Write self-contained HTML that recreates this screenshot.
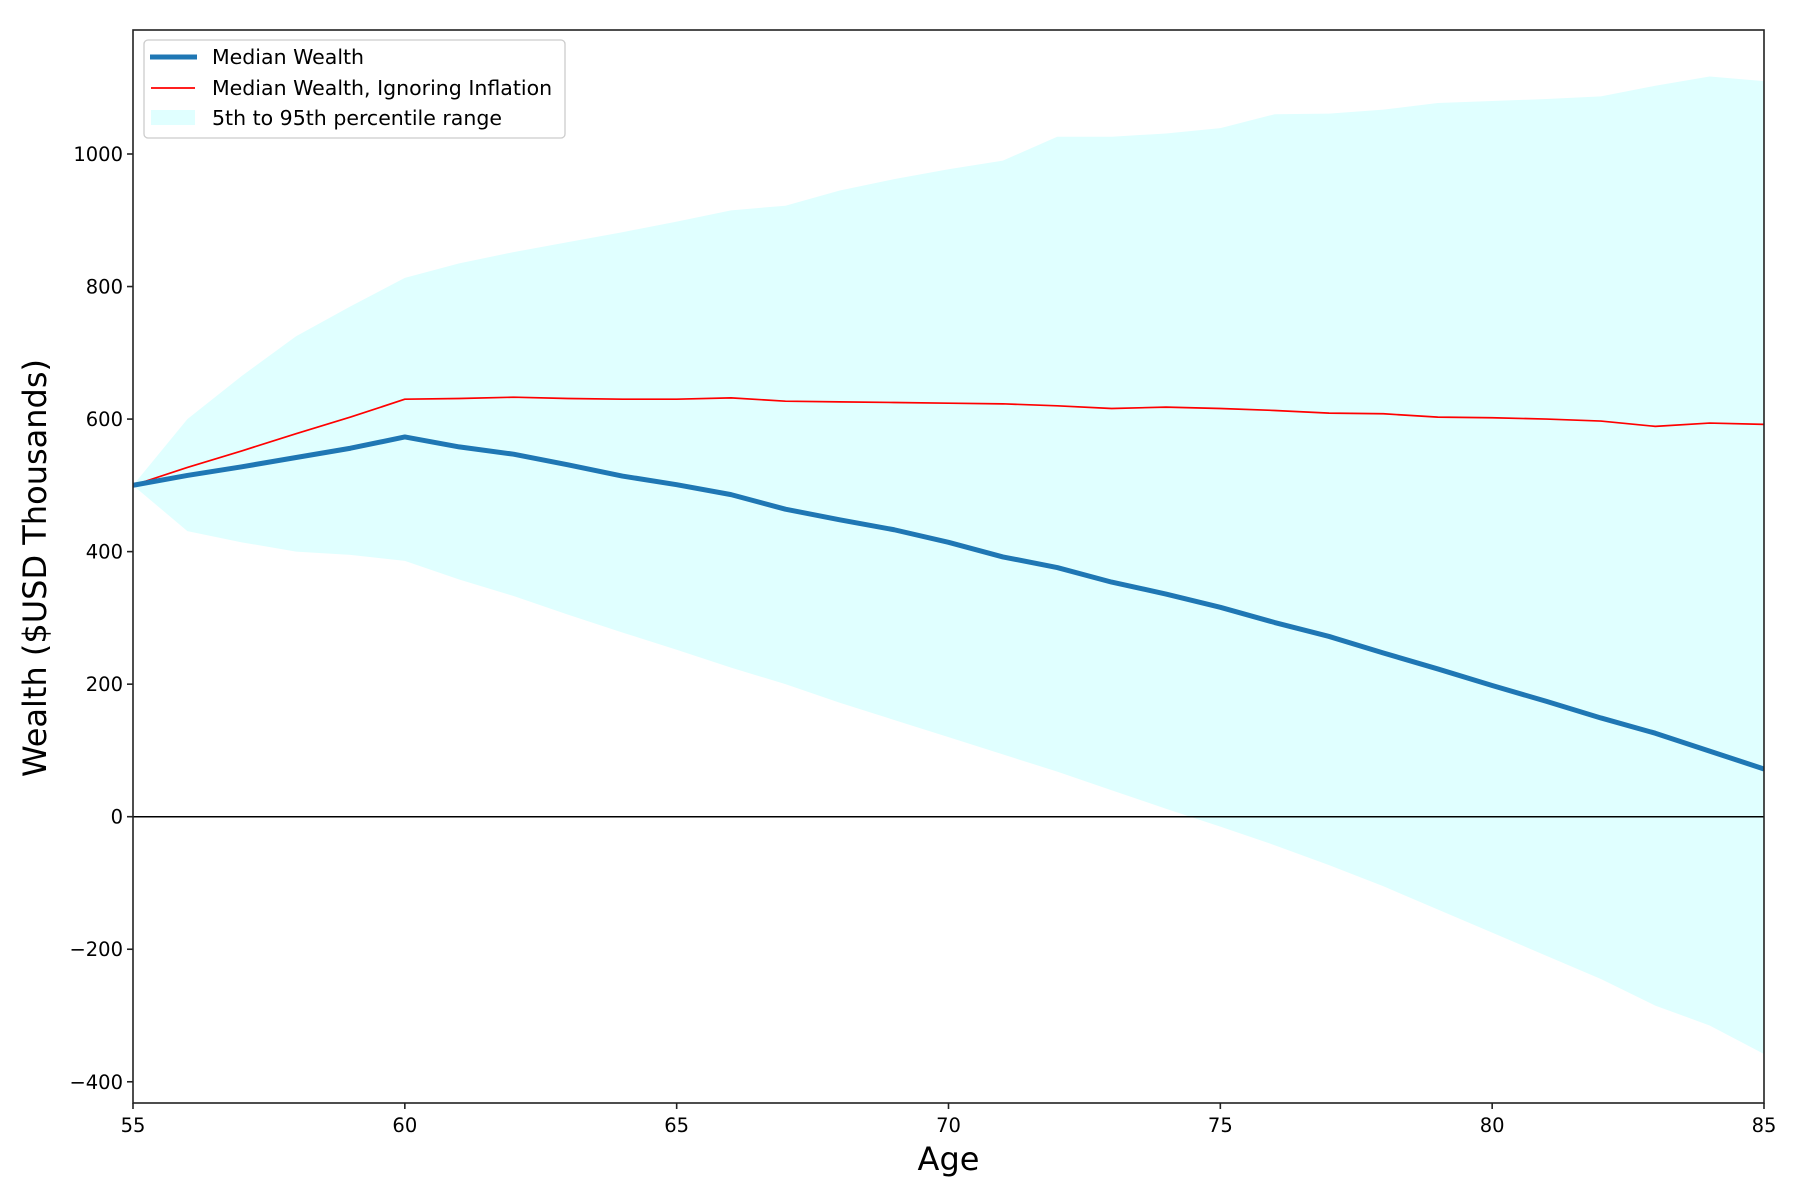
<!DOCTYPE html>
<html><head><meta charset="utf-8"><style>
html,body{margin:0;padding:0;background:#fff}
svg{display:block;font-family:"DejaVu Sans","Liberation Sans",sans-serif}
</style></head><body>
<svg id="chart" width="1800" height="1200" viewBox="0 0 1800 1200" xmlns="http://www.w3.org/2000/svg">
<g id="plot"></g>
</svg>
<script>
const ages = [55,56,57,58,59,60,61,62,63,64,65,66,67,68,69,70,71,72,73,74,75,76,77,78,79,80,81,82,83,84,85];
const medianWealth = [500,515,528,542,556,573,558,547,531,514,501,486,464,448,433,414,392,376,354,336,316,293,272,247,223,198,174,149,126,99,72];
const medianNominal = [500,527,552,578,603,630,631,633,631,630,630,632,627,626,625,624,623,620,616,618,616,613,609,608,603,602,600,597,589,594,592];
const upper95 = [500,600,665,725,770,813,835,852,867,882,898,915,922,945,962,977,990,1026,1026,1031,1039,1060,1061,1067,1077,1080,1083,1087,1103,1117,1110];
const lower5 = [500,431,414,400,395,386,358,333,305,278,252,225,200,172,146,120,94,68,40,12,-15,-43,-73,-105,-140,-175,-210,-245,-285,-315,-358];
const xTicks = [55,60,65,70,75,80,85];
const yTicks = [-400,-200,0,200,400,600,800,1000];

const L=133,R=1764,T=30,B=1103;
const X0=55,X1=85;
const Y0PX=816.7, PXPERUNIT=0.6627;
const sx=v=>L+(v-X0)/(X1-X0)*(R-L);
const sy=v=>Y0PX-v*PXPERUNIT;
const NS='http://www.w3.org/2000/svg';
const svg=document.getElementById('chart');
function mk(tag,attrs,parent){const e=document.createElementNS(NS,tag);for(const k in attrs)e.setAttribute(k,attrs[k]);(parent||svg).appendChild(e);return e;}

const defs=mk('defs',{});
const cp=mk('clipPath',{id:'clip'},defs);
mk('rect',{x:L,y:T,width:R-L,height:B-T},cp);
const g=mk('g',{'clip-path':'url(#clip)'});



let pts=ages.map((a,i)=>sx(a)+','+sy(upper95[i]));
for(let i=ages.length-1;i>=0;i--)pts.push(sx(ages[i])+','+sy(lower5[i]));
const band=mk('polygon',{points:pts.join(' '),fill:'#e0ffff'},g);



const zl=mk('line',{x1:L,x2:R,y1:sy(0),y2:sy(0),stroke:'#000','stroke-width':1.5},g);



const red=mk('polyline',{points:ages.map((a,i)=>sx(a)+','+sy(medianNominal[i])).join(' '),fill:'none',stroke:'#ff0000','stroke-width':1.7,'stroke-linejoin':'round'},g);



const blue=mk('polyline',{points:ages.map((a,i)=>sx(a)+','+sy(medianWealth[i])).join(' '),fill:'none',stroke:'#1f77b4','stroke-width':5,'stroke-linejoin':'round'},g);



const fr=mk('rect',{x:L,y:T,width:R-L,height:B-T,fill:'none',stroke:'#222','stroke-width':1.6});



xTicks.forEach(t=>{
  const tk=mk('line',{x1:sx(t),x2:sx(t),y1:B,y2:B+6,stroke:'#222','stroke-width':1.6});
  
  
  const tx=mk('text',{x:sx(t),y:1132,'font-size':19.5,'text-anchor':'middle',fill:'#000'});
  tx.textContent=t;
  
  
});
yTicks.forEach(t=>{
  const tk=mk('line',{x1:L-6,x2:L,y1:sy(t),y2:sy(t),stroke:'#222','stroke-width':1.6});
  
  
  const tx=mk('text',{x:L-10,y:sy(t)+7,'font-size':19.5,'text-anchor':'end',fill:'#000'});
  tx.textContent=(t<0?'\u2212'+(-t):t);
  
  
});

const xl=mk('text',{x:(L+R)/2,y:1170,'font-size':32,'text-anchor':'middle',fill:'#000'});
xl.textContent='Age';


const yl=mk('text',{x:0,y:0,'font-size':32,'text-anchor':'middle',fill:'#000',transform:'translate(46,568) rotate(-90)'});
yl.textContent='Wealth ($USD Thousands)';



const lg=mk('g',{});


mk('rect',{x:144,y:40,width:421,height:98,rx:4,fill:'#fff','fill-opacity':0.85,stroke:'#ccc','stroke-width':1.3},lg);
const e1=mk('line',{x1:150,x2:197,y1:57,y2:57,stroke:'#1f77b4','stroke-width':5},lg);


const e2=mk('line',{x1:151,x2:195,y1:88,y2:88,stroke:'#ff0000','stroke-width':1.7},lg);


const e3=mk('rect',{x:151,y:110,width:44,height:15,fill:'#e0ffff'},lg);


[['Median Wealth',64],['Median Wealth, Ignoring Inflation',95],['5th to 95th percentile range',125]].forEach(([s,y])=>{
  const t=mk('text',{x:212,y:y,'font-size':20.5,fill:'#000'},lg);
  t.textContent=s;
  
  
});
</script>
</body></html>
